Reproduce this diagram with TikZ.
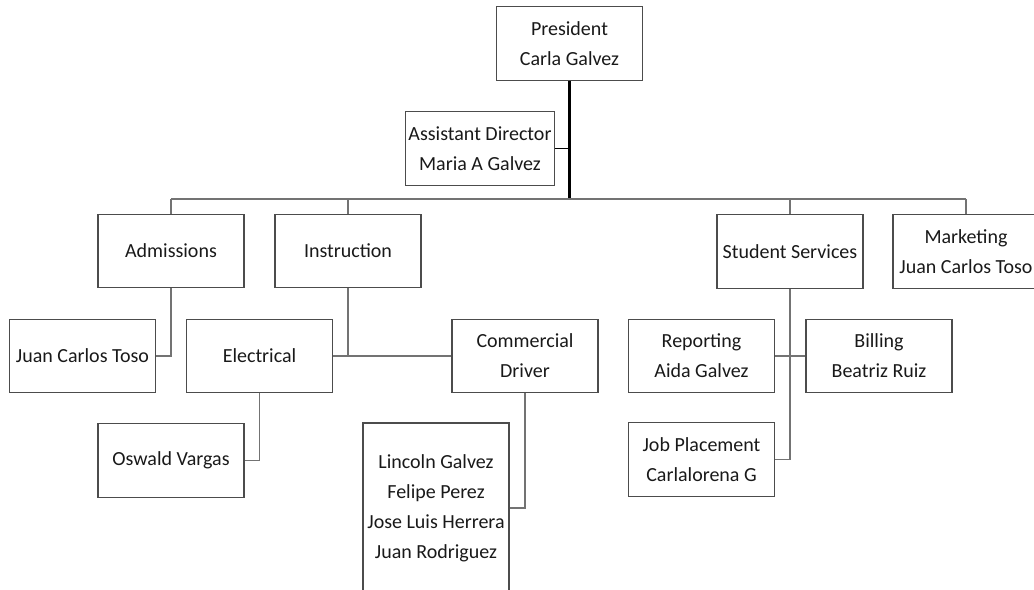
\documentclass[tikz,border=0pt]{standalone}
\usepackage{fontspec}
\setmainfont{Carlito}
\usepackage{tikz}
\usetikzlibrary{positioning, calc}

\tikzset{
  unit/.style={rectangle, draw=black!70, line width=0.9pt, text=black!90, minimum width=109.5pt, minimum height=55pt, align=center, inner sep=2pt, font=\fontsize{15}{22.5}\selectfont},
  link/.style={draw=black!55, line width=1.3pt},
  trunk/.style={draw=black, line width=1.6pt}
}

\begin{document}
\begin{tikzpicture}[x=0.75pt, y=-0.75pt]
                  \useasboundingbox (0,0) rectangle (1034,589);
                  \clip (0,0) rectangle (1034,589);
                  % Nodes
                  \node[unit] (pres) at (569.5,43.5) {President\\Carla Galvez};
                  \node[unit] (asst) at (480,148.5) {Assistant Director\\Maria A Galvez};
                  \node[unit] (adm) at (171,251) {Admissions};
                  \node[unit] (instr) at (348,251) {Instruction};
                  \node[unit] (stud) at (790,251.5) {Student Services};
                  \node[unit] (mkt) at (966,251.5) {Marketing\\Juan Carlos Toso};
                  \node[unit] (toso) at (82.5,356) {Juan Carlos Toso};
                  \node[unit] (elec) at (259.5,356) {Electrical};
                  \node[unit] (cdrv) at (525,356) {Commercial\\Driver};
                  \node[unit] (vargas) at (171,460.5) {Oswald Vargas};
                  \node[unit, minimum height=127.5pt] (drivers) at (436,508) {Lincoln Galvez\\Felipe Perez\\Jose Luis Herrera\\Juan Rodriguez};
                  \node[unit] (rep) at (701.5,356) {Reporting\\Aida Galvez};
                  \node[unit] (bill) at (879,356) {Billing\\Beatriz Ruiz};
                  \node[unit] (job) at (701.5,459.5) {Job Placement\\Carlalorena G};
                  \coordinate (bus) at (569.5,199);

                  % Lines
                  \draw[trunk] (pres.south) -- (bus);
                  \draw[trunk, line width=1.1pt] (asst.east) -- (asst.east -| pres.south);
                  \draw[link] (adm.north |- bus) -- (mkt.north |- bus);
                  \foreach \u in {adm,instr,stud,mkt}
                  \draw[link] (\u.north |- bus) -- (\u.north);
                  \draw[link] (adm.south) |- (toso.east);
                  \draw[link] (instr.south) -- (instr.south |- elec.east);
                  \draw[link] (elec.east) -- (cdrv.west);
                  \draw[link] (elec.south) |- (vargas.east);
                  \draw[link] (cdrv.south) |- (drivers.east);
                  \draw[link] (stud.south) |- (job.east);
                  \draw[link] (rep.east) -- (bill.west);
              \end{tikzpicture}
\end{document}
